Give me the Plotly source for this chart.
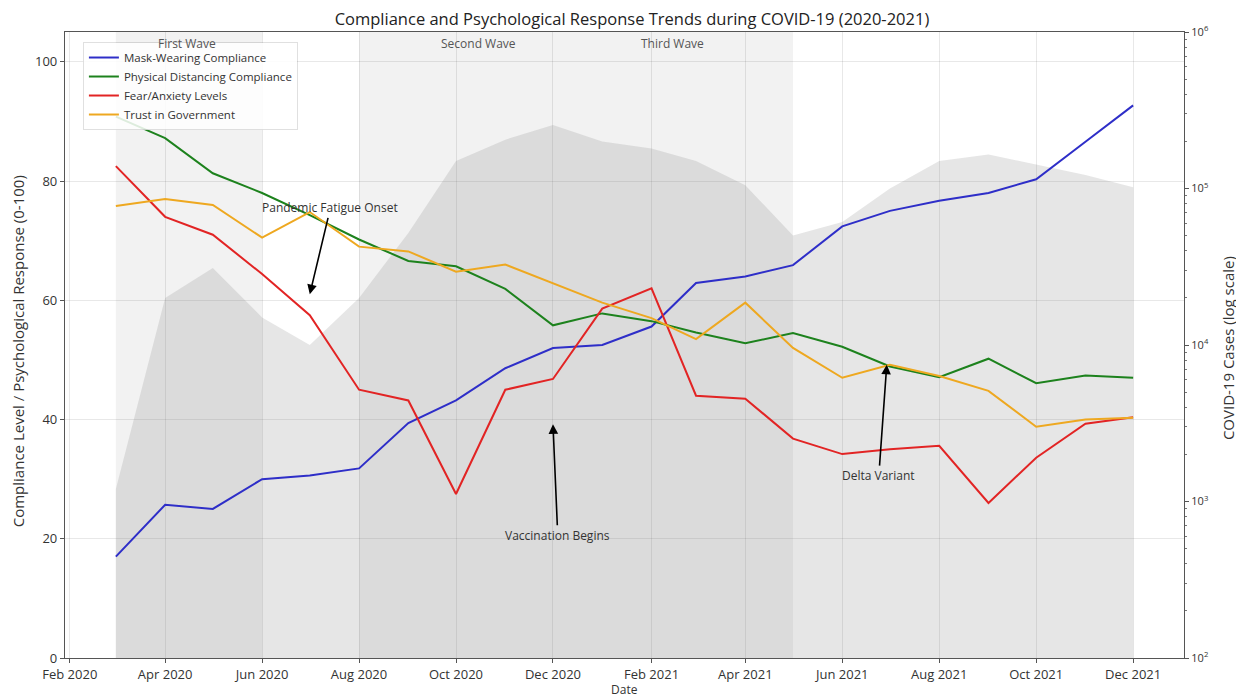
import plotly.graph_objects as go

# ---------------- data ----------------
months = ["2020-03-01", "2020-04-01", "2020-05-01", "2020-06-01", "2020-07-01", "2020-08-01",
          "2020-09-01", "2020-10-01", "2020-11-01", "2020-12-01", "2021-01-01", "2021-02-01",
          "2021-03-01", "2021-04-01", "2021-05-01", "2021-06-01", "2021-07-01", "2021-08-01",
          "2021-09-01", "2021-10-01", "2021-11-01", "2021-12-01"]

mask_wearing = [17.0, 25.7, 25.0, 30.0, 30.6, 31.8, 39.4, 43.2, 48.6, 52.0, 52.5, 55.6,
                62.9, 64.0, 65.9, 72.4, 75.0, 76.7, 78.0, 80.3, 86.6, 92.7]
physical_distancing = [90.8, 87.2, 81.3, 78.0, 74.3, 70.2, 66.6, 65.7, 61.9, 55.8, 57.8, 56.5,
                       54.6, 52.8, 54.5, 52.2, 48.9, 47.1, 50.2, 46.1, 47.4, 47.0]
fear_anxiety = [82.5, 74.0, 71.0, 64.4, 57.5, 45.0, 43.2, 27.5, 45.0, 46.8, 58.6, 62.0,
                44.0, 43.5, 36.8, 34.2, 35.0, 35.6, 26.0, 33.6, 39.3, 40.4]
trust_government = [75.8, 77.0, 76.0, 70.5, 74.8, 69.0, 68.2, 64.8, 66.0, 62.8, 59.6, 57.0,
                    53.5, 59.6, 52.0, 47.0, 49.2, 47.3, 44.8, 38.8, 40.0, 40.3]
covid_cases = [1200, 20000, 31000, 15000, 10000, 20000, 52000, 150000, 205000, 255000, 200000, 180000,
               150000, 105000, 50000, 61000, 100000, 150000, 165000, 142000, 122000, 102000]

series_names = ["Mask-Wearing Compliance", "Physical Distancing Compliance",
                "Fear/Anxiety Levels", "Trust in Government"]
series_values = [mask_wearing, physical_distancing, fear_anxiety, trust_government]
series_colors = ["#2e2ec8", "#1d821d", "#e22424", "#eea820"]

wave_labels = ["First Wave", "Second Wave", "Third Wave"]
wave_starts = ["2020-03-01", "2020-08-01", "2021-01-01"]
wave_ends = ["2020-06-01", "2021-01-01", "2021-05-01"]
wave_label_x = ["2020-04-15", "2020-10-15", "2021-02-14"]

x_tick_vals = ["2020-02-01", "2020-04-01", "2020-06-01", "2020-08-01", "2020-10-01", "2020-12-01",
               "2021-02-01", "2021-04-01", "2021-06-01", "2021-08-01", "2021-10-01", "2021-12-01"]
x_tick_text = ["Feb 2020", "Apr 2020", "Jun 2020", "Aug 2020", "Oct 2020", "Dec 2020",
               "Feb 2021", "Apr 2021", "Jun 2021", "Aug 2021", "Oct 2021", "Dec 2021"]
case_tick_vals = [1e2, 1e3, 1e4, 1e5, 1e6]
case_tick_text = ["10<sup>2</sup>", "10<sup>3</sup>", "10<sup>4</sup>", "10<sup>5</sup>", "10<sup>6</sup>"]
case_minor_vals = [m * d for d in (1e2, 1e3, 1e4, 1e5) for m in range(2, 10)]

event_labels = ["Pandemic Fatigue Onset", "Vaccination Begins", "Delta Variant"]
event_x = ["2020-07-01", "2020-12-01", "2021-06-29"]
event_y = [61.0, 39.2, 49.2]
event_text_x = ["2020-07-14", "2020-12-04", "2021-06-24"]
event_text_y = [75.5, 20.6, 30.6]

FONT = "Open Sans"
TXT = "#333333"
AX = "#555555"
fig = go.Figure()

# case area on the log axis (primary y, drawn beneath the lines)
baseline = [10] * len(months)
fig.add_trace(go.Scatter(x=months, y=baseline, mode="lines", line=dict(width=0),
                         showlegend=False, hoverinfo="skip", yaxis="y"))
fig.add_trace(go.Scatter(x=months, y=covid_cases, mode="lines", line=dict(width=0),
                         fill="tonexty", fillcolor="rgba(128,128,128,0.2)",
                         showlegend=False, name="COVID-19 Cases", yaxis="y"))

for name, vals, col in zip(series_names, series_values, series_colors):
    fig.add_trace(go.Scatter(x=months, y=vals, mode="lines", name=name,
                             line=dict(color=col, width=2), yaxis="y2"))

shapes = []
annotations = []
for label, start, end, lx in zip(wave_labels, wave_starts, wave_ends, wave_label_x):
    shapes.append(dict(type="rect", xref="x", yref="paper", x0=start, x1=end, y0=0, y1=1,
                       fillcolor="rgba(128,128,128,0.1)", line=dict(width=0), layer="below"))
    annotations.append(dict(text=label, x=lx, xref="x", y=0.981, yref="paper",
                            showarrow=False, font=dict(family=FONT, size=12, color="#555555"),
                            xanchor="center", yanchor="middle"))

for text, hx, hy, tx, ty in zip(event_labels, event_x, event_y, event_text_x, event_text_y):
    annotations.append(dict(text=text, x=hx, y=hy, xref="x", yref="y2",
                            ax=tx, ay=ty, axref="x", ayref="y2",
                            showarrow=True, arrowhead=2, arrowsize=1.2, arrowwidth=1.6,
                            arrowcolor="black", standoff=0, startstandoff=0,
                            font=dict(family=FONT, size=12, color=TXT)))

# axis titles placed as free text (page body has an 8px offset)
annotations.append(dict(text="Compliance Level / Psychological Response (0-100)", textangle=-90,
                        x=-0.042, xref="paper", y=0.49, yref="paper", showarrow=False,
                        xanchor="center", yanchor="middle",
                        font=dict(family=FONT, size=15, color=TXT)))
annotations.append(dict(text="COVID-19 Cases (log scale)", textangle=-90,
                        x=1.0393, xref="paper", y=0.495, yref="paper", showarrow=False,
                        xanchor="center", yanchor="middle",
                        font=dict(family=FONT, size=15, color=TXT)))
annotations.append(dict(text="Date", x=0.5, xref="paper", y=-0.051, yref="paper",
                        showarrow=False, xanchor="center", yanchor="middle",
                        font=dict(family=FONT, size=12, color=TXT)))

fig.update_layout(
    width=1244, height=698,
    margin=dict(l=57, r=68, t=24, b=48, autoexpand=False),
    paper_bgcolor="white", plot_bgcolor="white",
    font=dict(family=FONT, size=12, color=TXT),
    title=dict(text="Compliance and Psychological Response Trends during COVID-19 (2020-2021)",
               x=0.5016, xanchor="center", y=0.9835, yanchor="middle",
               font=dict(family=FONT, size=16.5, color="#222222")),
    xaxis=dict(type="date", range=["2020-01-29", "2022-01-02"], automargin=False,
               tickvals=x_tick_vals, ticktext=x_tick_text,
               showgrid=True, gridcolor="rgba(0,0,0,0.09)", gridwidth=1,
               showline=True, linecolor=AX, linewidth=1.2, mirror=True,
               ticks="outside", ticklen=4, tickcolor=AX,
               tickfont=dict(size=13)),
    yaxis=dict(type="log", range=[2, 6], side="right", automargin=False,
               tickvals=case_tick_vals, ticktext=case_tick_text,
               showgrid=False, showline=True, linecolor=AX, linewidth=1.2,
               ticks="outside", ticklen=4, tickcolor=AX,
               minor=dict(tickmode="array", tickvals=case_minor_vals, ticks="outside",
                          ticklen=2, tickcolor="#777777", showgrid=False),
               tickfont=dict(size=11)),
    yaxis2=dict(overlaying="y", side="left", range=[0, 105], automargin=False,
                tickvals=[0, 20, 40, 60, 80, 100],
                showgrid=True, gridcolor="rgba(0,0,0,0.09)", gridwidth=1,
                showline=True, linecolor=AX, linewidth=1.2,
                ticks="outside", ticklen=4, tickcolor=AX,
                zeroline=False,
                tickfont=dict(size=13)),
    legend=dict(x=0.016, y=0.984, xanchor="left", yanchor="top", traceorder="normal",
                bgcolor="rgba(255,255,255,0.85)", bordercolor="rgba(0,0,0,0.12)", borderwidth=1,
                font=dict(family=FONT, size=11.5, color=TXT),
                tracegroupgap=0, itemwidth=30),
    shapes=shapes,
    annotations=annotations,
)

fig.write_html("out.html")
